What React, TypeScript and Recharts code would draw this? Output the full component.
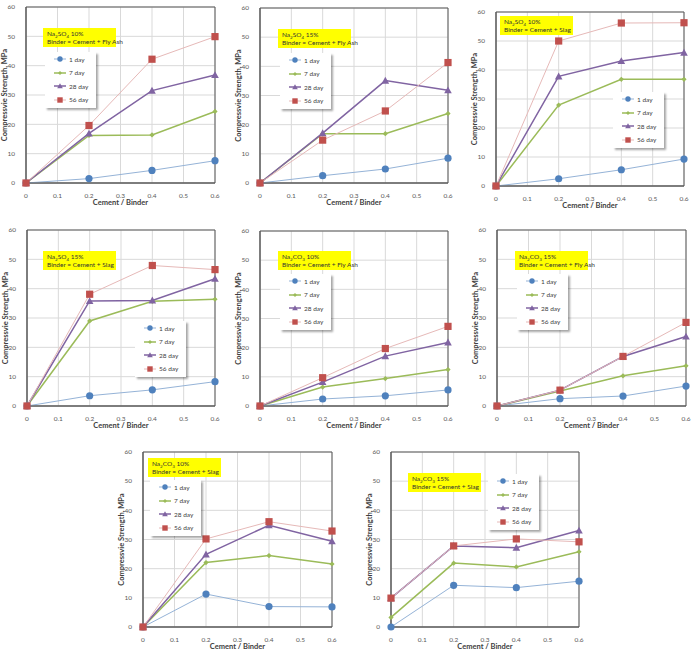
import React from "react";
import { LineChart, Line, XAxis, YAxis, CartesianGrid, ReferenceArea } from "recharts";

// Cement / Binder ratios (x positions)
const cementBinder = [0, 0.2, 0.4, 0.6];
const xTicks = [0, 0.1, 0.2, 0.3, 0.4, 0.5, 0.6];
const yTicks = [0, 10, 20, 30, 40, 50, 60];

// each panel: [1 day, 7 day, 28 day, 56 day], MPa
const so4Fa10 = [
  [0, 1.5, 4.3, 7.6],
  [0, 16.2, 16.4, 24.4],
  [0, 16.9, 31.5, 36.8],
  [0, 19.6, 42.2, 49.9],
];
const so4Fa15 = [
  [0, 2.5, 4.8, 8.5],
  [0, 16.9, 16.9, 23.8],
  [0, 17.1, 35.1, 31.8],
  [0, 14.7, 24.7, 41.3],
];
const so4Slag10 = [
  [0, 2.5, 5.6, 9.3],
  [0, 27.9, 36.8, 36.8],
  [0, 37.8, 43.1, 46.0],
  [0, 50.0, 56.2, 56.3],
];
const so4Slag15 = [
  [0, 3.5, 5.5, 8.3],
  [0, 29.0, 35.7, 36.4],
  [0, 35.8, 36.0, 43.4],
  [0, 38.1, 47.9, 46.5],
];
const co3Fa10 = [
  [0, 2.4, 3.5, 5.5],
  [0, 6.5, 9.4, 12.5],
  [0, 8.2, 17.1, 21.8],
  [0, 9.7, 19.7, 27.3],
];
const co3Fa15 = [
  [0, 2.5, 3.4, 6.8],
  [0, 5.1, 10.3, 13.7],
  [0, 5.4, 16.9, 23.7],
  [0, 5.4, 16.9, 28.5],
];
const co3Slag10 = [
  [0, 11.3, 7.0, 6.9],
  [0, 22.1, 24.5, 21.6],
  [0, 24.9, 34.9, 29.4],
  [0, 30.2, 36.1, 32.9],
];
const co3Slag15 = [
  [0, 14.3, 13.5, 15.7],
  [3.3, 21.9, 20.6, 25.8],
  [9.9, 27.8, 27.2, 33.1],
  [9.9, 27.8, 30.2, 29.2],
];

const FONT = "Lato, 'Open Sans', sans-serif";

type Shape = "circle" | "diamond" | "triangle" | "square";

const series: { key: string; name: string; line: string; width: number; fill: string; shape: Shape; size: number }[] = [
  { key: "d1", name: "1 day", line: "#95b3d7", width: 1, fill: "#4f81bd", shape: "circle", size: 3.6 },
  { key: "d7", name: "7 day", line: "#9bbb59", width: 1.5, fill: "#9bbb59", shape: "diamond", size: 2.6 },
  { key: "d28", name: "28 day", line: "#8064a2", width: 1.5, fill: "#8064a2", shape: "triangle", size: 3.8 },
  { key: "d56", name: "56 day", line: "#e6b9b8", width: 1, fill: "#c0504d", shape: "square", size: 3.6 },
];

function marker(shape: Shape, cx: number, cy: number, s: number, fill: string, key?: string) {
  if (shape === "circle") return <circle key={key} cx={cx} cy={cy} r={s} fill={fill} />;
  if (shape === "square") return <rect key={key} x={cx - s} y={cy - s} width={s * 2} height={s * 2} fill={fill} />;
  if (shape === "diamond")
    return <polygon key={key} points={`${cx},${cy - s} ${cx + s},${cy} ${cx},${cy + s} ${cx - s},${cy}`} fill={fill} />;
  return <polygon key={key} points={`${cx},${cy - s} ${cx + s},${cy + s * 0.8} ${cx - s},${cy + s * 0.8}`} fill={fill} />;
}

const panels = [
  { data: so4Fa10, salt: "SO", pct: "10%", binder: "Fly Ash", plot: [26, 7, 215, 183], title: [43, 28], legend: [45, 52] },
  { data: so4Fa15, salt: "SO", pct: "15%", binder: "Fly Ash", plot: [260, 8, 448, 183], title: [278, 29], legend: [280, 53] },
  { data: so4Slag10, salt: "SO", pct: "10%", binder: "Slag", plot: [496, 12, 684, 186], title: [500, 16], legend: [613, 92] },
  { data: so4Slag15, salt: "SO", pct: "15%", binder: "Slag", plot: [27, 230, 215, 406], title: [43, 251], legend: [135, 321] },
  { data: co3Fa10, salt: "CO", pct: "10%", binder: "Fly Ash", plot: [260, 231, 448, 406], title: [278, 251], legend: [280, 274] },
  { data: co3Fa15, salt: "CO", pct: "15%", binder: "Fly Ash", plot: [497, 230, 686, 406], title: [515, 251], legend: [517, 274] },
  { data: co3Slag10, salt: "CO", pct: "10%", binder: "Slag", plot: [143, 452, 332, 627], title: [148, 458], legend: [150, 480] },
  { data: co3Slag15, salt: "CO", pct: "15%", binder: "Slag", plot: [391, 452, 579, 627], title: [408, 473], legend: [488, 474] },
];

const tickStyle = { fontSize: 6.5, fill: "#595959", fontFamily: FONT };
const titleStyle = { fontSize: 7.5, fontWeight: 700, fill: "#404040", fontFamily: FONT };

function Panel({ p }: { p: (typeof panels)[number] }) {
  const [L, T, R, B] = p.plot;
  const rows = cementBinder.map((x, i) => ({
    x,
    d1: p.data[0][i],
    d7: p.data[1][i],
    d28: p.data[2][i],
    d56: p.data[3][i],
  }));
  const yw = 28;
  const xh = 26;
  return (
    <>
      <div style={{ position: "absolute", left: L - yw, top: T - 8 }}>
        <LineChart
          width={R - L + yw + 8}
          height={B - T + 8 + xh}
          data={rows}
          margin={{ top: 8, right: 8, left: 0, bottom: 0 }}
        >
          <CartesianGrid stroke="#d9d9d9" strokeWidth={1} />
          <XAxis
            type="number"
            dataKey="x"
            domain={[0, 0.6]}
            ticks={xTicks}
            allowDecimals
            tick={tickStyle}
            tickLine={false}
            tickMargin={4}
            height={xh}
            axisLine={{ stroke: "#595959" }}
            label={{ value: "Cement / Binder", position: "insideBottom", offset: 4, style: titleStyle }}
          />
          <YAxis
            type="number"
            domain={[0, 60]}
            ticks={yTicks}
            tick={tickStyle}
            tickLine={false}
            tickMargin={5}
            width={yw}
            axisLine={{ stroke: "#595959" }}
            label={{
              value: "Compressvie Strength, MPa",
              angle: -90,
              position: "insideLeft",
              offset: 6,
              style: { ...titleStyle, textAnchor: "middle" },
            }}
          />
          <ReferenceArea x1={0} x2={0.6} y1={0} y2={60} fill="none" stroke="#595959" strokeWidth={1} />
          {series.map((s) => (
            <Line
              key={s.key}
              dataKey={s.key}
              name={s.name}
              type="linear"
              stroke={s.line}
              strokeWidth={s.width}
              isAnimationActive={false}
              dot={(d: any) => marker(s.shape, d.cx, d.cy, s.size, s.fill, `${s.key}-${d.index}`)}
              activeDot={false}
            />
          ))}
        </LineChart>
      </div>
      <div
        style={{
          position: "absolute",
          left: p.title[0],
          top: p.title[1],
          width: 73,
          height: 19,
          background: "#ffff00",
          fontFamily: FONT,
          fontSize: 6.5,
          lineHeight: "8px",
          color: "#333",
          padding: "2px 0 0 4px",
          boxSizing: "border-box",
          whiteSpace: "nowrap",
        }}
      >
        <div>
          Na<sub style={{ fontSize: 4.5, verticalAlign: "-1.5px", lineHeight: 0 }}>2</sub>
          {p.salt}
          <sub style={{ fontSize: 4.5, verticalAlign: "-1.5px", lineHeight: 0 }}>{p.salt === "SO" ? "4" : "3"}</sub> {p.pct}
        </div>
        <div>Binder = Cement + {p.binder}</div>
      </div>
      <div
        style={{
          position: "absolute",
          left: p.legend[0],
          top: p.legend[1],
          width: 51,
          height: 56,
          background: "#fff",
          boxShadow: "2px 2px 2px rgba(0,0,0,0.35)",
          fontFamily: FONT,
          fontSize: 6.5,
          color: "#404040",
        }}
      >
        {series.map((s, i) => (
          <div key={s.key} style={{ position: "absolute", left: 9, top: 2 + i * 13.6, height: 10, display: "flex", alignItems: "center" }}>
            <svg width={12} height={10} style={{ display: "block" }}>
              <line x1={0} y1={5} x2={12} y2={5} stroke={s.line} strokeWidth={s.width} />
              {marker(s.shape, 6, 5, Math.min(s.size * 0.75, 2.8), s.fill)}
            </svg>
            <span style={{ marginLeft: 3 }}>{s.name}</span>
          </div>
        ))}
      </div>
    </>
  );
}

export default function App() {
  return (
    <div style={{ position: "absolute", left: 0, top: 0, width: 692, height: 650, background: "#fff", overflow: "hidden" }}>
      {panels.map((p, i) => (
        <Panel key={i} p={p} />
      ))}
    </div>
  );
}
